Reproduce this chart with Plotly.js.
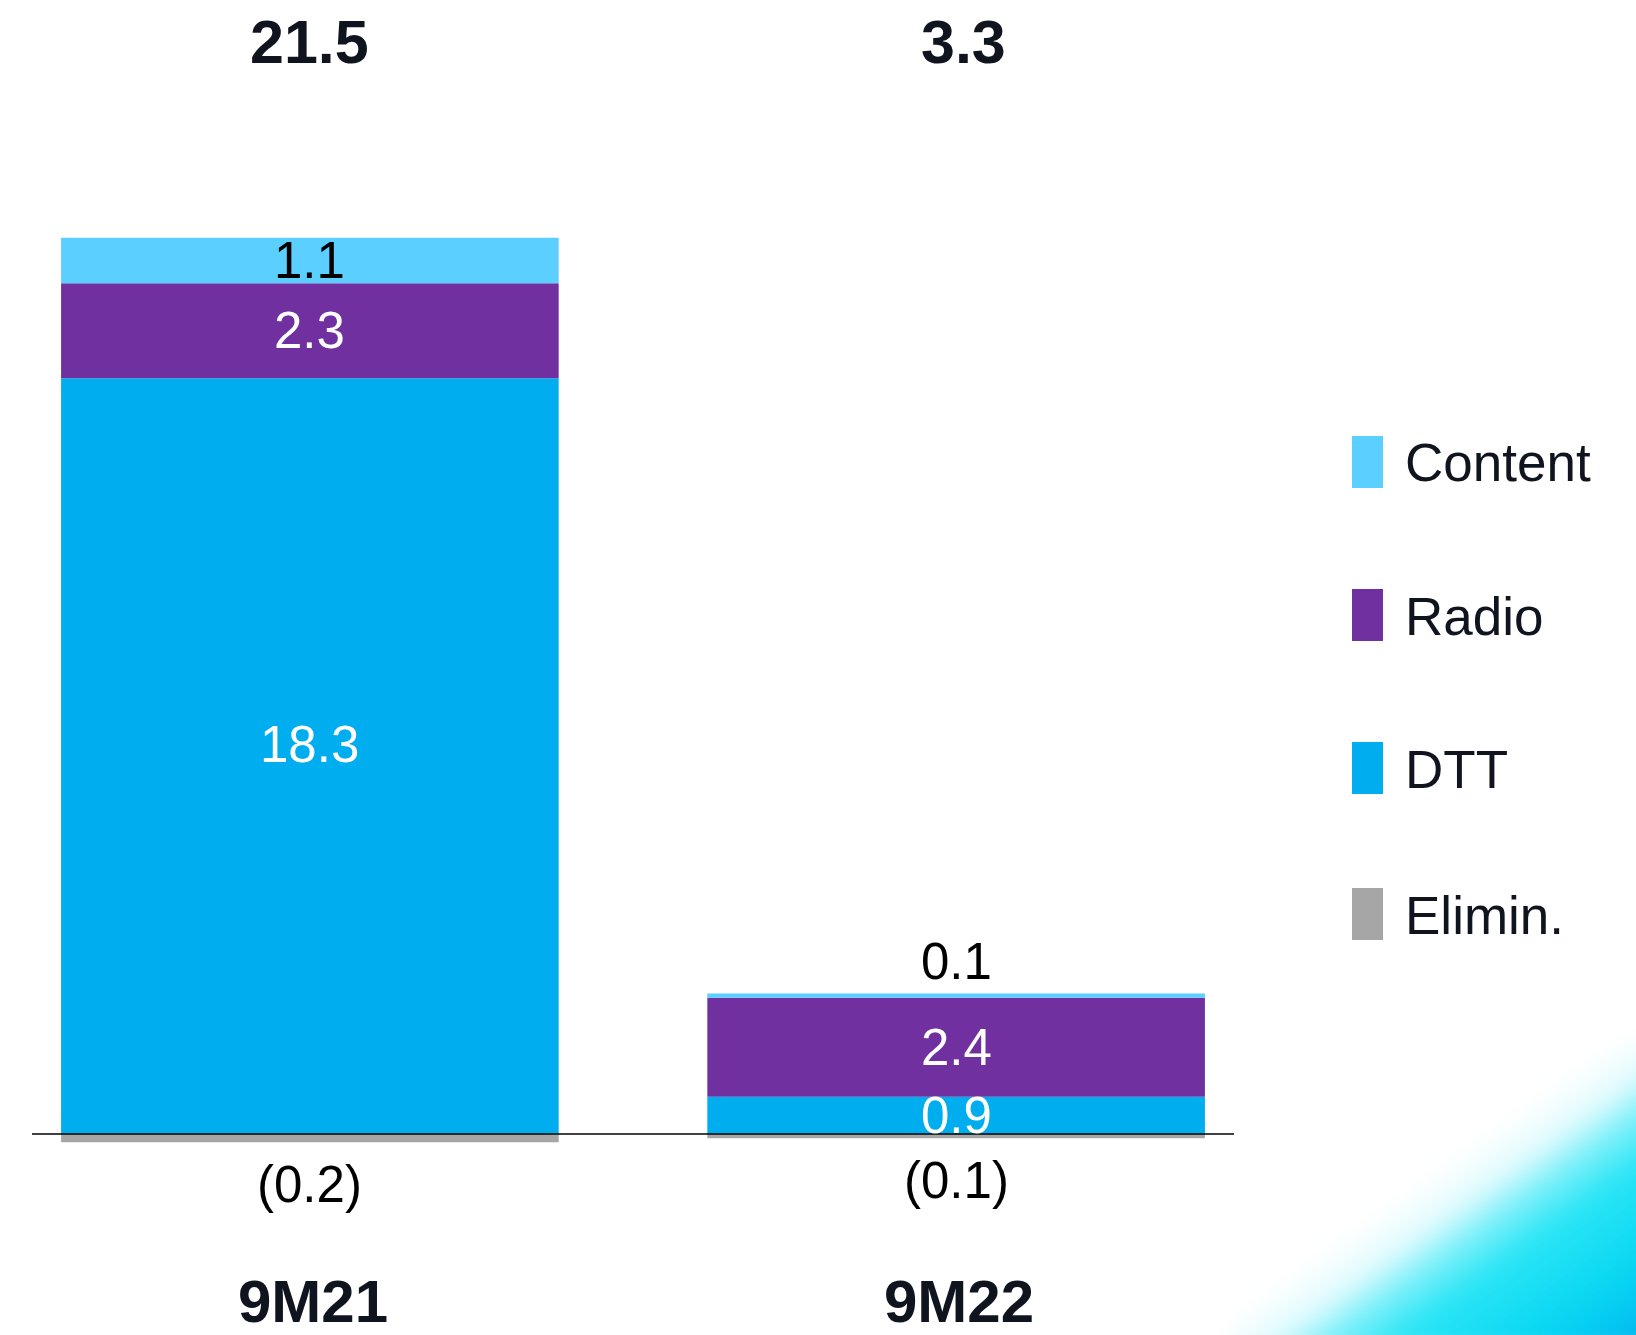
<!DOCTYPE html>
<html>
<head>
<meta charset="utf-8">
<script src="https://cdn.plot.ly/plotly-3.0.1.min.js"></script>
<style>
  html, body { margin: 0; padding: 0; background: #ffffff; }
  #wrap { position: relative; width: 1636px; height: 1335px; overflow: hidden; }
  #glow {
    position: absolute; left: 1230px; top: 1040px; width: 430px; height: 310px;
    background: linear-gradient(to bottom right,
      rgba(255,255,255,0) 0%,
      rgba(255,255,255,0) 45%,
      rgba(190,246,252,0.45) 53%,
      rgba(90,236,248,0.8) 60%,
      rgba(35,228,245,0.97) 68%,
      rgb(8,214,242) 84%,
      rgb(0,174,240) 100%);
    filter: blur(9px);
  }
  #chart { position: absolute; left: 0; top: 0; width: 1636px; height: 1335px; }
</style>
</head>
<body>
<div id="wrap">
  <div id="glow"></div>
  <div id="chart"></div>
</div>
<script>
// EBITDA contribution by business line, 9M21 vs 9M22 (EUR m)
const categories = ['9M21', '9M22'];
const dtt       = [18.3, 0.9];
const radio     = [2.3, 2.4];
const content   = [1.1, 0.1];
const elimin    = [-0.2, -0.1];
const totals    = [21.5, 3.3];
const seriesNames = ['Content', 'Radio', 'DTT', 'Elimin.'];

const colors = {
  'Content': '#5BCFFF',
  'Radio':   '#7030A0',
  'DTT':     '#00AEEF',
  'Elimin.': '#A6A6A6'
};

const W = 1636, H = 1335;
const M = { l: 32, r: 402, t: 100, b: 135 };
const plotW = W - M.l - M.r, plotH = H - M.t - M.b;
const pxPerUnit = 41.3;
const zeroPx = 1134;
const yRange = [-(M.t + plotH - zeroPx) / pxPerUnit, (zeroPx - M.t) / pxPerUnit];

// pixel -> paper helpers for the fixed-position text and legend
const px2x = p => (p - M.l) / plotW;
const px2y = p => (M.t + plotH - p) / plotH;

const fontFam = 'Liberation Sans, Arial, Helvetica, sans-serif';
const dark = '#10141F';
const fmt = v => v < 0 ? '(' + Math.abs(v).toFixed(1) + ')' : v.toFixed(1);

const barWidth = 0.77;
function barTrace(name, values) {
  return {
    type: 'bar', name: name, x: categories, y: values,
    width: barWidth,
    marker: { color: colors[name], line: { width: 0 } },
    hoverinfo: 'x+y+name', showlegend: false
  };
}

const data = [
  barTrace('DTT', dtt),
  barTrace('Radio', radio),
  barTrace('Content', content),
  barTrace('Elimin.', elimin)
];

const annotations = [];
const labelFont = (c) => ({ family: fontFam, size: 51, color: c });
const totalShift = [0, 7];

categories.forEach((cat, i) => {
  // stacked segment labels
  const base1 = dtt[i], base2 = dtt[i] + radio[i], top = base2 + content[i];
  annotations.push({ x: cat, y: dtt[i] / 2, xref: 'x', yref: 'y', text: fmt(dtt[i]),
    showarrow: false, yanchor: 'middle', yshift: dtt[i] > 5 ? 12 : 0, font: labelFont('#FFFFFF') });
  annotations.push({ x: cat, y: base1 + radio[i] / 2, xref: 'x', yref: 'y', text: fmt(radio[i]),
    showarrow: false, yanchor: 'middle', font: labelFont('#FFFFFF') });
  if (content[i] >= 0.5) {
    annotations.push({ x: cat, y: base2 + content[i] / 2, xref: 'x', yref: 'y', text: fmt(content[i]),
      showarrow: false, yanchor: 'middle', font: labelFont('#000000') });
  } else {
    annotations.push({ x: cat, y: top, xref: 'x', yref: 'y', text: fmt(content[i]),
      showarrow: false, yanchor: 'middle', yshift: 32, font: labelFont('#000000') });
  }
  // eliminations below the axis
  annotations.push({ x: cat, y: elimin[i], xref: 'x', yref: 'y', text: fmt(elimin[i]),
    showarrow: false, yanchor: 'middle', yshift: -42, font: labelFont('#000000') });
  // totals row
  annotations.push({ x: cat, y: px2y(42), xref: 'x', yref: 'paper', text: '<b>' + fmt(totals[i]) + '</b>',
    showarrow: false, yanchor: 'middle', xshift: totalShift[i], font: { family: fontFam, size: 61, color: dark } });
  // category labels
  annotations.push({ x: cat, y: px2y(1301), xref: 'x', yref: 'paper', text: '<b>' + cat + '</b>',
    showarrow: false, yanchor: 'middle', xshift: 3, font: { family: fontFam, size: 60, color: dark } });
});

// legend: swatches and names
const legendY = [462, 615, 768, 914];
const shapes = [
  { type: 'line', xref: 'paper', yref: 'y', x0: 0, x1: 1, y0: 0, y1: 0,
    line: { color: '#000000', width: 1.3 }, layer: 'above' }
];
seriesNames.forEach((name, k) => {
  const cy = legendY[k];
  shapes.push({ type: 'rect', xref: 'paper', yref: 'paper',
    x0: px2x(1352), x1: px2x(1383), y0: px2y(cy + 26), y1: px2y(cy - 26),
    fillcolor: colors[name], line: { width: 0 } });
  annotations.push({ x: px2x(1403), y: px2y(cy + 1), xref: 'paper', yref: 'paper', text: name,
    showarrow: false, xanchor: 'left', yanchor: 'middle', font: { family: fontFam, size: 53, color: dark } });
});

const layout = {
  width: W, height: H,
  margin: M,
  barmode: 'relative',
  paper_bgcolor: 'rgba(0,0,0,0)',
  plot_bgcolor: 'rgba(0,0,0,0)',
  showlegend: false,
  xaxis: { type: 'category', range: [-0.43, 1.43], showticklabels: false, showgrid: false,
           zeroline: false, showline: false, ticks: '' },
  yaxis: { range: yRange, showticklabels: false, showgrid: false, zeroline: false,
           showline: false, ticks: '' },
  annotations: annotations,
  shapes: shapes,
  font: { family: fontFam, color: dark }
};

Plotly.newPlot('chart', data, layout, { displayModeBar: false, staticPlot: true });
</script>
</body>
</html>
